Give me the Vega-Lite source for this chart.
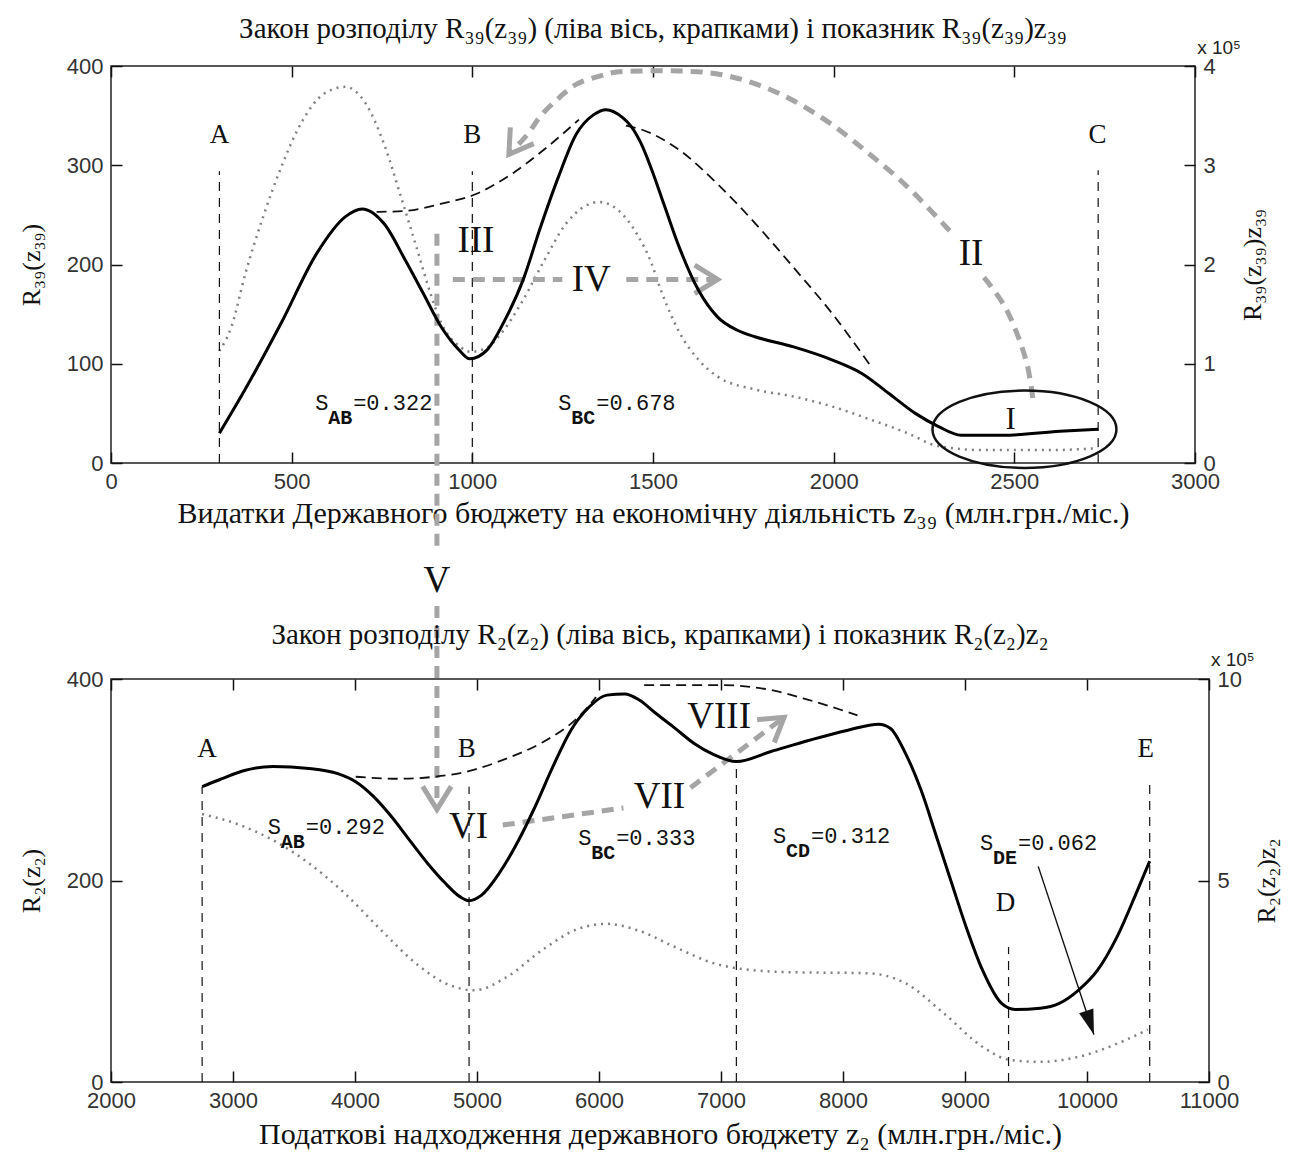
{
"$schema": "https://vega.github.io/schema/vega-lite/v6.json",
"background": "white",
"padding": {"left": 17, "top": 14, "right": 5, "bottom": 5},
"bounds": "flush",
"spacing": 216,
"datasets": {
"t_dot": [{"z":300,"r":113},{"z":333,"r":137},{"z":372,"r":191},{"z":421,"r":248},{"z":471,"r":298},{"z":530,"r":345},{"z":589,"r":372},{"z":648,"r":379},{"z":707,"r":361},{"z":756,"r":321},{"z":806,"r":264},{"z":845,"r":218},{"z":884,"r":171},{"z":914,"r":141},{"z":963,"r":118},{"z":995,"r":112},{"z":1040,"r":116},{"z":1081,"r":131},{"z":1140,"r":164},{"z":1199,"r":204},{"z":1259,"r":241},{"z":1308,"r":258},{"z":1352,"r":263},{"z":1406,"r":254},{"z":1455,"r":231},{"z":1495,"r":202},{"z":1521,"r":175},{"z":1574,"r":131},{"z":1626,"r":104},{"z":1679,"r":87},{"z":1784,"r":74},{"z":1889,"r":67},{"z":1995,"r":57},{"z":2100,"r":44},{"z":2205,"r":30},{"z":2289,"r":17},{"z":2416,"r":13},{"z":2600,"r":13},{"z":2732,"r":15}],
"t_sol": [{"z":300,"v":0.30},{"z":371,"v":0.74},{"z":471,"v":1.41},{"z":569,"v":2.11},{"z":648,"v":2.48},{"z":695,"v":2.56},{"z":756,"v":2.41},{"z":815,"v":2.04},{"z":864,"v":1.71},{"z":914,"v":1.37},{"z":963,"v":1.14},{"z":993,"v":1.05},{"z":1041,"v":1.14},{"z":1090,"v":1.44},{"z":1140,"v":1.84},{"z":1189,"v":2.38},{"z":1238,"v":2.88},{"z":1287,"v":3.31},{"z":1336,"v":3.51},{"z":1370,"v":3.56},{"z":1416,"v":3.48},{"z":1440,"v":3.39},{"z":1467,"v":3.22},{"z":1499,"v":2.93},{"z":1530,"v":2.61},{"z":1572,"v":2.18},{"z":1626,"v":1.74},{"z":1679,"v":1.47},{"z":1732,"v":1.34},{"z":1784,"v":1.27},{"z":1889,"v":1.17},{"z":1995,"v":1.04},{"z":2079,"v":0.90},{"z":2153,"v":0.70},{"z":2226,"v":0.50},{"z":2289,"v":0.37},{"z":2353,"v":0.28},{"z":2468,"v":0.28},{"z":2626,"v":0.32},{"z":2732,"v":0.34}],
"t_env": [{"s":1,"z":735,"r":253},{"s":1,"z":813,"r":254},{"s":1,"z":912,"r":261},{"s":1,"z":1010,"r":271},{"s":1,"z":1108,"r":291},{"s":1,"z":1206,"r":318},{"s":1,"z":1295,"r":346},{"s":2,"z":1425,"r":340},{"s":2,"z":1468,"r":336},{"s":2,"z":1574,"r":315},{"s":2,"z":1679,"r":281},{"s":2,"z":1784,"r":241},{"s":2,"z":1889,"r":197},{"s":2,"z":1995,"r":151},{"s":2,"z":2100,"r":99}],
"t_vl": [{"z":300,"r0":0,"r1":294},{"z":1000,"r0":0,"r1":294},{"z":2732,"r0":0,"r1":295}],
"t_arr": [{"s":"IIa","o":1,"z":2321,"r":234},{"s":"IIa","o":2,"z":2205,"r":278},{"s":"IIa","o":3,"z":2100,"r":311},{"s":"IIa","o":4,"z":1995,"r":341},{"s":"IIa","o":5,"z":1889,"r":365},{"s":"IIa","o":6,"z":1784,"r":382},{"s":"IIa","o":7,"z":1679,"r":392},{"s":"IIa","o":8,"z":1574,"r":395},{"s":"IIa","o":9,"z":1468,"r":395},{"s":"IIa","o":10,"z":1400,"r":394},{"s":"IIa","o":11,"z":1354,"r":390},{"s":"IIa","o":12,"z":1290,"r":382},{"s":"IIa","o":13,"z":1240,"r":368},{"s":"IIa","o":14,"z":1190,"r":350},{"s":"IIa","o":15,"z":1150,"r":330},{"s":"IIa","o":16,"z":1101,"r":311},
{"s":"IIb","o":1,"z":2416,"r":187},{"s":"IIb","o":2,"z":2479,"r":154},{"s":"IIb","o":3,"z":2532,"r":104},{"s":"IIb","o":4,"z":2553,"r":60},
{"s":"IVa","o":1,"z":946,"r":185},{"s":"IVa","o":2,"z":1249,"r":185},{"s":"IVb","o":1,"z":1426,"r":185},{"s":"IVb","o":2,"z":1679,"r":185},
{"s":"Va","o":1,"z":902,"r":231},{"s":"Va","o":2,"z":902,"r":-86},{"s":"Vb","o":1,"z":902,"r":-144},{"s":"Vb","o":2,"z":902,"r":-349}],
"t_s": [{"z":565,"r":53,"sub":"AB","val":"=0.322"},{"z":1238,"r":53,"sub":"BC","val":"=0.678"}],
"b_dot": [{"z":2747,"r":266},{"z":3035,"r":256},{"z":3329,"r":240},{"z":3623,"r":217},{"z":3918,"r":187},{"z":4212,"r":151},{"z":4506,"r":117},{"z":4741,"r":98},{"z":4976,"r":91},{"z":5241,"r":104},{"z":5535,"r":131},{"z":5829,"r":152},{"z":6064,"r":157},{"z":6330,"r":150},{"z":6622,"r":134},{"z":6937,"r":118},{"z":7126,"r":113},{"z":7567,"r":109},{"z":8197,"r":108},{"z":8513,"r":98},{"z":8828,"r":68},{"z":9143,"r":35},{"z":9363,"r":22},{"z":9616,"r":20},{"z":9931,"r":25},{"z":10246,"r":38},{"z":10498,"r":52}],
"b_sol": [{"z":2747,"v":7.33},{"z":2888,"v":7.50},{"z":3094,"v":7.73},{"z":3329,"v":7.83},{"z":3623,"v":7.78},{"z":3859,"v":7.65},{"z":4006,"v":7.45},{"z":4153,"v":7.08},{"z":4300,"v":6.58},{"z":4447,"v":6.00},{"z":4594,"v":5.43},{"z":4741,"v":4.93},{"z":4859,"v":4.60},{"z":4932,"v":4.50},{"z":5035,"v":4.63},{"z":5182,"v":5.18},{"z":5329,"v":5.93},{"z":5476,"v":6.83},{"z":5623,"v":7.83},{"z":5770,"v":8.73},{"z":5917,"v":9.30},{"z":6064,"v":9.60},{"z":6212,"v":9.63},{"z":6330,"v":9.48},{"z":6465,"v":9.15},{"z":6622,"v":8.78},{"z":6780,"v":8.40},{"z":6937,"v":8.13},{"z":7126,"v":7.95},{"z":7410,"v":8.20},{"z":7725,"v":8.48},{"z":8040,"v":8.73},{"z":8292,"v":8.88},{"z":8387,"v":8.78},{"z":8513,"v":8.15},{"z":8639,"v":7.25},{"z":8765,"v":6.10},{"z":8891,"v":4.93},{"z":9017,"v":3.78},{"z":9143,"v":2.78},{"z":9300,"v":1.95},{"z":9411,"v":1.80},{"z":9616,"v":1.83},{"z":9773,"v":1.95},{"z":9931,"v":2.28},{"z":10088,"v":2.78},{"z":10246,"v":3.60},{"z":10403,"v":4.68},{"z":10514,"v":5.48}],
"b_env": [{"s":1,"z":4006,"r":303},{"s":1,"z":4359,"r":301},{"s":1,"z":4653,"r":303},{"s":1,"z":4947,"r":309},{"s":1,"z":5241,"r":321},{"s":1,"z":5535,"r":337},{"s":1,"z":5829,"r":362},{"s":1,"z":5976,"r":382},{"s":2,"z":6370,"r":394},{"s":2,"z":7000,"r":394},{"s":2,"z":7410,"r":389},{"s":2,"z":7725,"r":379},{"s":2,"z":8119,"r":364}],
"b_vl": [{"z":2747,"r0":0,"r1":293},{"z":4935,"r0":0,"r1":293},{"z":7126,"r0":0,"r1":318},{"z":9357,"r0":0,"r1":134},{"z":10514,"r0":0,"r1":295}],
"b_arr": [{"s":"VIIa","o":1,"z":5211,"r":255},{"s":"VIIa","o":2,"z":6200,"r":272},{"s":"VIIb","o":1,"z":6750,"r":292},{"s":"VIIb","o":2,"z":7517,"r":362}],
"b_blk": [{"o":1,"z":9600,"r":214},{"o":2,"z":10057,"r":47}],
"b_s": [{"z":3285,"r":246,"sub":"AB","val":"=0.292"},{"z":5829,"r":235,"sub":"BC","val":"=0.333"},{"z":7427,"r":237,"sub":"CD","val":"=0.312"},{"z":9123,"r":230,"sub":"DE","val":"=0.062"}]
},
"vconcat": [
{
"width": 1084, "height": 397,
"title": {"text": "Закон розподілу R₃₉(z₃₉) (ліва вісь, крапками) і показник R₃₉(z₃₉)z₃₉", "frame": "group", "anchor": "middle", "offset": -5, "font": "Liberation Serif", "fontSize": 29, "fontWeight": "normal", "color": "#111"},
"resolve": {"scale": {"y": "independent"}},
"layer": [
{"resolve": {"axis": {"x": "independent", "y": "independent"}},
 "layer": [
{"data": {"name": "t_dot"}, "mark": {"type": "line", "color": "#7f7f7f", "strokeWidth": 2.5, "strokeDash": [2, 5], "interpolate": "monotone"},
 "encoding": {"x": {"field": "z", "type": "quantitative", "scale": {"domain": [0, 3000], "nice": false}, "axis": {"orient": "bottom", "values": [0, 500, 1000, 1500, 2000, 2500, 3000], "format": "d", "labelFlush": false, "title": "Видатки Державного бюджету на економічну діяльність z₃₉ (млн.грн./міс.)", "titleFontSize": 30, "titlePadding": 6}},
  "y": {"field": "r", "type": "quantitative", "scale": {"domain": [0, 400], "nice": false}, "axis": {"orient": "left", "values": [0, 100, 200, 300, 400], "title": "R₃₉(z₃₉)", "titlePadding": 22}}}},
{"data": {"name": "t_vl"}, "mark": {"type": "rule", "color": "#111", "strokeWidth": 1.2, "strokeDash": [9, 7]},
 "encoding": {"x": {"field": "z", "type": "quantitative", "scale": {"domain": [0, 3000], "nice": false}, "axis": {"orient": "top", "values": [0, 500, 1000, 1500, 2000, 2500, 3000], "labels": false, "title": null}},
  "y": {"field": "r0", "type": "quantitative", "scale": {"domain": [0, 400], "nice": false}, "axis": null}, "y2": {"field": "r1"}}},
{"data": {"name": "t_env"}, "mark": {"type": "line", "color": "#111", "strokeWidth": 1.8, "strokeDash": [10, 6], "interpolate": "monotone"},
 "encoding": {"x": {"field": "z", "type": "quantitative", "scale": {"domain": [0, 3000], "nice": false}, "axis": null}, "y": {"field": "r", "type": "quantitative", "scale": {"domain": [0, 400], "nice": false}, "axis": null}, "detail": {"field": "s"}}},
{"data": {"name": "t_arr"}, "mark": {"type": "line", "color": "#a5a5a5", "strokeWidth": 5, "strokeDash": [12, 8], "interpolate": "cardinal", "clip": false},
 "encoding": {"x": {"field": "z", "type": "quantitative", "scale": {"domain": [0, 3000], "nice": false}, "axis": null}, "y": {"field": "r", "type": "quantitative", "scale": {"domain": [0, 400], "nice": false}, "axis": null}, "detail": {"field": "s"}, "order": {"field": "o"}}},
{"data": {"values": [{"z": 1101, "r": 311}]}, "mark": {"type": "point", "shape": "M -0.62 1 L 0 0 L 0.62 1", "size": 2116, "angle": 215, "filled": false, "stroke": "#a5a5a5", "strokeWidth": 5, "opacity": 1},
 "encoding": {"x": {"field": "z", "type": "quantitative", "scale": {"domain": [0, 3000], "nice": false}, "axis": null}, "y": {"field": "r", "type": "quantitative", "scale": {"domain": [0, 400], "nice": false}, "axis": null}}},
{"data": {"values": [{"z": 1679, "r": 185}]}, "mark": {"type": "point", "shape": "M -0.62 1 L 0 0 L 0.62 1", "size": 2116, "angle": 90, "filled": false, "stroke": "#a5a5a5", "strokeWidth": 5, "opacity": 1},
 "encoding": {"x": {"field": "z", "type": "quantitative", "scale": {"domain": [0, 3000], "nice": false}, "axis": null}, "y": {"field": "r", "type": "quantitative", "scale": {"domain": [0, 400], "nice": false}, "axis": null}}},
{"data": {"values": [{"z": 902, "r": -349}]}, "mark": {"type": "point", "shape": "M -0.62 1 L 0 0 L 0.62 1", "size": 2116, "angle": 180, "filled": false, "stroke": "#a5a5a5", "strokeWidth": 5, "opacity": 1, "clip": false},
 "encoding": {"x": {"field": "z", "type": "quantitative", "scale": {"domain": [0, 3000], "nice": false}, "axis": null}, "y": {"field": "r", "type": "quantitative", "scale": {"domain": [0, 400], "nice": false}, "axis": null}}},
{"data": {"values": [{"z": 2528, "r": 34}]}, "mark": {"type": "point", "shape": "M -1 0 A 1 0.42 0 1 1 1 0 A 1 0.42 0 1 1 -1 0 Z", "size": 33856, "filled": false, "stroke": "#111", "strokeWidth": 2.5, "opacity": 1, "clip": false},
 "encoding": {"x": {"field": "z", "type": "quantitative", "scale": {"domain": [0, 3000], "nice": false}, "axis": null}, "y": {"field": "r", "type": "quantitative", "scale": {"domain": [0, 400], "nice": false}, "axis": null}}},
{"data": {"values": [{"z": 300, "r": 330, "t": "A"}, {"z": 1000, "r": 330, "t": "B"}, {"z": 2730, "r": 330, "t": "C"}]}, "mark": {"type": "text", "font": "Liberation Serif", "fontSize": 27, "color": "#111", "align": "center", "baseline": "middle"},
 "encoding": {"x": {"field": "z", "type": "quantitative", "scale": {"domain": [0, 3000], "nice": false}, "axis": null}, "y": {"field": "r", "type": "quantitative", "scale": {"domain": [0, 400], "nice": false}, "axis": null}, "text": {"field": "t"}}},
{"data": {"values": [{"z": 1010, "r": 224, "t": "III"}, {"z": 1329, "r": 184, "t": "IV"}, {"z": 2380, "r": 211, "t": "II"}, {"z": 902, "r": -119, "t": "V"}]}, "mark": {"type": "text", "font": "Liberation Serif", "fontSize": 37, "color": "#111", "align": "center", "baseline": "middle", "clip": false},
 "encoding": {"x": {"field": "z", "type": "quantitative", "scale": {"domain": [0, 3000], "nice": false}, "axis": null}, "y": {"field": "r", "type": "quantitative", "scale": {"domain": [0, 400], "nice": false}, "axis": null}, "text": {"field": "t"}}},
{"data": {"values": [{"z": 2490, "r": 43, "t": "I"}]}, "mark": {"type": "text", "font": "Liberation Serif", "fontSize": 31, "color": "#111", "align": "center", "baseline": "middle"},
 "encoding": {"x": {"field": "z", "type": "quantitative", "scale": {"domain": [0, 3000], "nice": false}, "axis": null}, "y": {"field": "r", "type": "quantitative", "scale": {"domain": [0, 400], "nice": false}, "axis": null}, "text": {"field": "t"}}},
{"data": {"name": "t_s"}, "mark": {"type": "text", "font": "Liberation Mono", "fontSize": 22, "color": "#111", "align": "left", "baseline": "alphabetic"},
 "encoding": {"x": {"field": "z", "type": "quantitative", "scale": {"domain": [0, 3000], "nice": false}, "axis": null}, "y": {"field": "r", "type": "quantitative", "scale": {"domain": [0, 400], "nice": false}, "axis": null}, "text": {"value": "S"}}},
{"data": {"name": "t_s"}, "mark": {"type": "text", "font": "Liberation Mono", "fontSize": 20, "fontWeight": "bold", "color": "#111", "align": "left", "baseline": "alphabetic", "dx": 13, "dy": 14},
 "encoding": {"x": {"field": "z", "type": "quantitative", "scale": {"domain": [0, 3000], "nice": false}, "axis": null}, "y": {"field": "r", "type": "quantitative", "scale": {"domain": [0, 400], "nice": false}, "axis": null}, "text": {"field": "sub"}}},
{"data": {"name": "t_s"}, "mark": {"type": "text", "font": "Liberation Mono", "fontSize": 22, "color": "#111", "align": "left", "baseline": "alphabetic", "dx": 38},
 "encoding": {"x": {"field": "z", "type": "quantitative", "scale": {"domain": [0, 3000], "nice": false}, "axis": null}, "y": {"field": "r", "type": "quantitative", "scale": {"domain": [0, 400], "nice": false}, "axis": null}, "text": {"field": "val"}}},
{"data": {"values": [{"z": 3006, "r": 412, "t": "x 10⁵"}, {"z": 3044, "r": -205, "t": "x 10⁵"}]}, "mark": {"type": "text", "font": "Liberation Sans", "fontSize": 19, "color": "#222", "align": "left", "baseline": "alphabetic", "clip": false},
 "encoding": {"x": {"field": "z", "type": "quantitative", "scale": {"domain": [0, 3000], "nice": false}, "axis": null}, "y": {"field": "r", "type": "quantitative", "scale": {"domain": [0, 400], "nice": false}, "axis": null}, "text": {"field": "t"}}}
]},
{"data": {"name": "t_sol"}, "mark": {"type": "line", "color": "#000", "strokeWidth": 3, "interpolate": "monotone"},
 "encoding": {"x": {"field": "z", "type": "quantitative", "scale": {"domain": [0, 3000], "nice": false}, "axis": null},
  "y": {"field": "v", "type": "quantitative", "scale": {"domain": [0, 4], "nice": false}, "axis": {"orient": "right", "values": [0, 1, 2, 3, 4], "title": "R₃₉(z₃₉)z₃₉", "titleAngle": -90, "titleBaseline": "top", "titlePadding": 24, "labelAlign": "left"}}}}
]
},
{
"width": 1098, "height": 403,
"title": {"text": "Закон розподілу R₂(z₂) (ліва вісь, крапками) і показник R₂(z₂)z₂", "frame": "group", "anchor": "middle", "offset": 18, "font": "Liberation Serif", "fontSize": 29, "fontWeight": "normal", "color": "#111"},
"resolve": {"scale": {"y": "independent"}},
"layer": [
{"resolve": {"axis": {"x": "independent", "y": "independent"}},
 "layer": [
{"data": {"name": "b_dot"}, "mark": {"type": "line", "color": "#7f7f7f", "strokeWidth": 2.5, "strokeDash": [2, 5], "interpolate": "monotone"},
 "encoding": {"x": {"field": "z", "type": "quantitative", "scale": {"domain": [2000, 11000], "nice": false, "zero": false}, "axis": {"orient": "bottom", "values": [2000, 3000, 4000, 5000, 6000, 7000, 8000, 9000, 10000, 11000], "format": "d", "labelFlush": false, "title": "Податкові надходження державного бюджету z₂ (млн.грн./міс.)", "titleFontSize": 30, "titlePadding": 8}},
  "y": {"field": "r", "type": "quantitative", "scale": {"domain": [0, 400], "nice": false}, "axis": {"orient": "left", "values": [0, 200, 400], "title": "R₂(z₂)", "titlePadding": 22}}}},
{"data": {"name": "b_vl"}, "mark": {"type": "rule", "color": "#111", "strokeWidth": 1.2, "strokeDash": [9, 7]},
 "encoding": {"x": {"field": "z", "type": "quantitative", "scale": {"domain": [2000, 11000], "nice": false, "zero": false}, "axis": {"orient": "top", "values": [2000, 3000, 4000, 5000, 6000, 7000, 8000, 9000, 10000, 11000], "labels": false, "title": null}},
  "y": {"field": "r0", "type": "quantitative", "scale": {"domain": [0, 400], "nice": false}, "axis": null}, "y2": {"field": "r1"}}},
{"data": {"name": "b_env"}, "mark": {"type": "line", "color": "#111", "strokeWidth": 1.8, "strokeDash": [10, 6], "interpolate": "monotone"},
 "encoding": {"x": {"field": "z", "type": "quantitative", "scale": {"domain": [2000, 11000], "nice": false, "zero": false}, "axis": null}, "y": {"field": "r", "type": "quantitative", "scale": {"domain": [0, 400], "nice": false}, "axis": null}, "detail": {"field": "s"}}},
{"data": {"name": "b_arr"}, "mark": {"type": "line", "color": "#a5a5a5", "strokeWidth": 5, "strokeDash": [12, 8], "interpolate": "linear"},
 "encoding": {"x": {"field": "z", "type": "quantitative", "scale": {"domain": [2000, 11000], "nice": false, "zero": false}, "axis": null}, "y": {"field": "r", "type": "quantitative", "scale": {"domain": [0, 400], "nice": false}, "axis": null}, "detail": {"field": "s"}, "order": {"field": "o"}}},
{"data": {"values": [{"z": 7517, "r": 362}]}, "mark": {"type": "point", "shape": "M -0.62 1 L 0 0 L 0.62 1", "size": 2116, "angle": 53, "filled": false, "stroke": "#a5a5a5", "strokeWidth": 5, "opacity": 1},
 "encoding": {"x": {"field": "z", "type": "quantitative", "scale": {"domain": [2000, 11000], "nice": false, "zero": false}, "axis": null}, "y": {"field": "r", "type": "quantitative", "scale": {"domain": [0, 400], "nice": false}, "axis": null}}},
{"data": {"name": "b_blk"}, "mark": {"type": "line", "color": "#111", "strokeWidth": 1.4},
 "encoding": {"x": {"field": "z", "type": "quantitative", "scale": {"domain": [2000, 11000], "nice": false, "zero": false}, "axis": null}, "y": {"field": "r", "type": "quantitative", "scale": {"domain": [0, 400], "nice": false}, "axis": null}, "order": {"field": "o"}}},
{"data": {"values": [{"z": 10057, "r": 47}]}, "mark": {"type": "point", "shape": "M 0 0 L 0.3 1 L -0.3 1 Z", "size": 2500, "angle": 162, "filled": true, "color": "#111", "opacity": 1},
 "encoding": {"x": {"field": "z", "type": "quantitative", "scale": {"domain": [2000, 11000], "nice": false, "zero": false}, "axis": null}, "y": {"field": "r", "type": "quantitative", "scale": {"domain": [0, 400], "nice": false}, "axis": null}}},
{"data": {"values": [{"z": 2787, "r": 331, "t": "A"}, {"z": 4915, "r": 331, "t": "B"}, {"z": 10482, "r": 331, "t": "E"}, {"z": 9332, "r": 178, "t": "D"}]}, "mark": {"type": "text", "font": "Liberation Serif", "fontSize": 27, "color": "#111", "align": "center", "baseline": "middle"},
 "encoding": {"x": {"field": "z", "type": "quantitative", "scale": {"domain": [2000, 11000], "nice": false, "zero": false}, "axis": null}, "y": {"field": "r", "type": "quantitative", "scale": {"domain": [0, 400], "nice": false}, "axis": null}, "text": {"field": "t"}}},
{"data": {"values": [{"z": 4931, "r": 253, "t": "VI"}, {"z": 6496, "r": 283, "t": "VII"}, {"z": 6985, "r": 362, "t": "VIII"}]}, "mark": {"type": "text", "font": "Liberation Serif", "fontSize": 37, "color": "#111", "align": "center", "baseline": "middle"},
 "encoding": {"x": {"field": "z", "type": "quantitative", "scale": {"domain": [2000, 11000], "nice": false, "zero": false}, "axis": null}, "y": {"field": "r", "type": "quantitative", "scale": {"domain": [0, 400], "nice": false}, "axis": null}, "text": {"field": "t"}}},
{"data": {"name": "b_s"}, "mark": {"type": "text", "font": "Liberation Mono", "fontSize": 22, "color": "#111", "align": "left", "baseline": "alphabetic"},
 "encoding": {"x": {"field": "z", "type": "quantitative", "scale": {"domain": [2000, 11000], "nice": false, "zero": false}, "axis": null}, "y": {"field": "r", "type": "quantitative", "scale": {"domain": [0, 400], "nice": false}, "axis": null}, "text": {"value": "S"}}},
{"data": {"name": "b_s"}, "mark": {"type": "text", "font": "Liberation Mono", "fontSize": 20, "fontWeight": "bold", "color": "#111", "align": "left", "baseline": "alphabetic", "dx": 13, "dy": 14},
 "encoding": {"x": {"field": "z", "type": "quantitative", "scale": {"domain": [2000, 11000], "nice": false, "zero": false}, "axis": null}, "y": {"field": "r", "type": "quantitative", "scale": {"domain": [0, 400], "nice": false}, "axis": null}, "text": {"field": "sub"}}},
{"data": {"name": "b_s"}, "mark": {"type": "text", "font": "Liberation Mono", "fontSize": 22, "color": "#111", "align": "left", "baseline": "alphabetic", "dx": 38},
 "encoding": {"x": {"field": "z", "type": "quantitative", "scale": {"domain": [2000, 11000], "nice": false, "zero": false}, "axis": null}, "y": {"field": "r", "type": "quantitative", "scale": {"domain": [0, 400], "nice": false}, "axis": null}, "text": {"field": "val"}}}
]},
{"data": {"name": "b_sol"}, "mark": {"type": "line", "color": "#000", "strokeWidth": 3, "interpolate": "monotone"},
 "encoding": {"x": {"field": "z", "type": "quantitative", "scale": {"domain": [2000, 11000], "nice": false, "zero": false}, "axis": null},
  "y": {"field": "v", "type": "quantitative", "scale": {"domain": [0, 10], "nice": false}, "axis": {"orient": "right", "values": [0, 5, 10], "title": "R₂(z₂)z₂", "titleAngle": -90, "titleBaseline": "top", "titlePadding": 12, "labelAlign": "left"}}}}
]
}
],
"config": {
 "view": {"stroke": "#222", "strokeWidth": 1.5},
 "axis": {"grid": false, "domain": false, "ticks": true, "tickSize": -11, "tickColor": "#111", "tickWidth": 1.5, "labelFont": "Liberation Sans", "labelFontSize": 22, "labelColor": "#333", "labelPadding": 19, "labelOverlap": false, "titleFont": "Liberation Serif", "titleFontSize": 26, "titleFontWeight": "normal", "titleColor": "#111"}
}
}
